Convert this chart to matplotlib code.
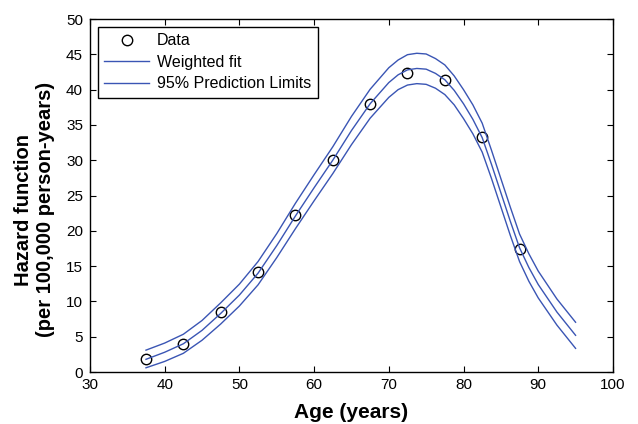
import matplotlib.pyplot as plt

plt.rcParams['font.family'] = ['Liberation Sans', 'DejaVu Sans']

# observed hazard values (per 100,000 person-years)
data_age = [37.5, 42.5, 47.5, 52.5, 57.5, 62.5, 67.5, 72.5, 77.5, 82.5, 87.5]
data_hazard = [1.8, 3.9, 8.5, 14.1, 22.3, 30.0, 37.9, 42.4, 41.4, 33.3, 17.4]

# weighted fit and 95% prediction limits
fit_age = [37.5, 40, 42.5, 45, 47.5, 50, 52.5, 55, 57.5, 60, 62.5, 65,
           67.5, 70, 71.25, 72.5, 73.75, 75, 76.25, 77.5, 78.75, 80, 81.25,
           82.5, 83.75, 85, 86.25, 87.5, 88.75, 90, 92.5, 95]
fit_mid = [1.8, 2.8, 4.0, 5.9, 8.3, 10.9, 14.0, 17.9, 22.1, 26.1, 30.0, 34.2,
           38.0, 41.0, 42.1, 42.8, 43.0, 42.9, 42.3, 41.4, 39.9, 38.0, 35.8,
           33.2, 29.4, 25.4, 21.4, 17.6, 14.8, 12.4, 8.5, 5.2]
fit_upper = [3.1, 4.1, 5.35, 7.3, 9.8, 12.45, 15.65, 19.6, 23.9, 27.95, 31.9, 36.2,
             40.05, 43.1, 44.2, 44.95, 45.15, 45.05, 44.4, 43.5, 41.95, 40.0, 37.85,
             35.25, 31.4, 27.4, 23.4, 19.55, 16.75, 14.3, 10.35, 7.05]
fit_lower = [0.6, 1.5, 2.65, 4.5, 6.8, 9.35, 12.35, 16.2, 20.3, 24.25, 28.1, 32.2,
             35.95, 38.9, 40.0, 40.65, 40.85, 40.75, 40.2, 39.3, 37.85, 35.9, 33.75,
             31.15, 27.4, 23.4, 19.4, 15.65, 12.85, 10.5, 6.65, 3.35]

blue = '#3a55b4'

fig = plt.figure(figsize=(6.38, 4.24), dpi=100)
ax = fig.add_axes([0.141, 0.1226, 0.8197, 0.8325])

ax.plot(data_age, data_hazard, 'o', mfc='none', mec='black', ms=7.5, mew=1.0, label='Data')
ax.plot(fit_age, fit_mid, color=blue, lw=1.0, label='Weighted fit')
ax.plot(fit_age, fit_upper, color=blue, lw=1.0, label='95% Prediction Limits')
ax.plot(fit_age, fit_lower, color=blue, lw=1.0)

ax.set_xlim(30, 100)
ax.set_ylim(0, 50)
ax.set_xticks(range(30, 101, 10))
ax.set_yticks(range(0, 51, 5))
ax.tick_params(direction='in', top=True, right=True, labelsize=11, length=4)
ax.tick_params(axis='x', pad=4)
ax.tick_params(axis='y', pad=5)
for s in ax.spines.values():
    s.set_linewidth(1.0)

ax.set_xlabel('Age (years)', fontsize=15, fontweight='bold', labelpad=8)
ax.set_ylabel('Hazard function\n(per 100,000 person-years)', fontsize=14.5,
              fontweight='bold')
ax.yaxis.set_label_coords(-0.066, 0.46)

leg = ax.legend(loc='upper left', fontsize=11.5, handlelength=2.8, fancybox=False,
                edgecolor='black', framealpha=1, borderaxespad=0.5,
                labelspacing=0.4, handletextpad=0.5)
leg.get_frame().set_linewidth(1.0)

fig.savefig('out.png', dpi=100)
